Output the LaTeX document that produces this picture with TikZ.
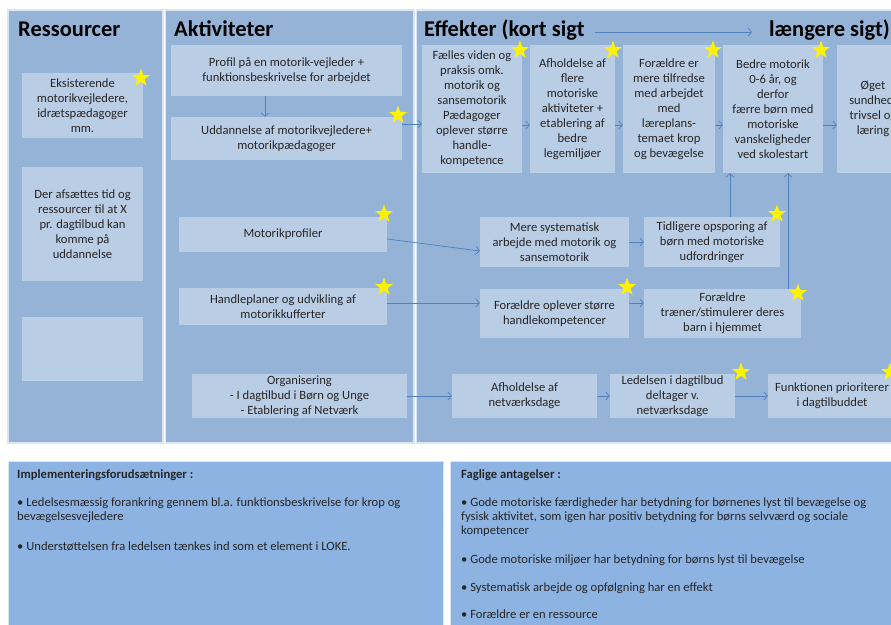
\documentclass[tikz,border=0pt]{standalone}
\usepackage{fontspec}
\setmainfont{Carlito}
\usetikzlibrary{shapes.geometric,arrows.meta}
\definecolor{panel}{HTML}{95B3D7}
\definecolor{boxc}{HTML}{B9CDE5}
\definecolor{lowp}{HTML}{8DB3E2}
\definecolor{arrc}{HTML}{4F81BD}
\definecolor{edgec}{HTML}{DCE6F2}
\definecolor{txt}{HTML}{262626}
\begin{document}
\begin{tikzpicture}[x=1pt,y=-1pt,
  box/.style={fill=boxc, inner sep=0pt, align=center, text=txt, font=\fontsize{12.6}{15}\selectfont},
  head/.style={anchor=base west, inner sep=0pt, text=black, font=\fontsize{22.5}{26}\selectfont\bfseries},
  ptxt/.style={anchor=base west, inner sep=0pt, text=txt, font=\fontsize{12.6}{14}\selectfont},
  phead/.style={ptxt, font=\fontsize{12.6}{14}\selectfont\bfseries},
  arr/.style={draw=arrc, line width=0.7pt, -{Straight Barb[length=3.5pt,width=8pt]}},
  ystar/.style={shape=star, star points=5, star point ratio=2.5, fill=yellow, draw=none, inner sep=0pt, minimum size=19pt}]
\clip (0,0) rectangle (891,624);
\useasboundingbox (0,0) rectangle (891,624);
\fill[white] (0,0) rectangle (891,624);
% columns
\filldraw[fill=panel, draw=edgec, line width=1.2pt] (8,10) rectangle (163,443);
\filldraw[fill=panel, draw=edgec, line width=1.2pt] (165.5,10) rectangle (414,443);
\filldraw[fill=panel, draw=edgec, line width=1.2pt] (416.5,10) rectangle (905,443);
% bottom panels
\filldraw[fill=lowp, draw=edgec, line width=0.8pt] (8,461) rectangle (443,640);
\filldraw[fill=lowp, draw=edgec, line width=0.8pt] (450,461) rectangle (905,640);
% headers
\node[head] (h1) at (18,36) {Ressourcer};
\node[head] (h2) at (174,36) {Aktiviteter};
\node[head] (h3) at (424,36) {Effekter (kort sigt};
\node[head] (h4) at (769,36) {længere sigt)};
\coordinate (k1) at (595,32);
\coordinate (k2) at (752,32);
\draw[arr] (k1) -- (k2);
% ressourcer
\node[box, minimum width=121pt, minimum height=65pt] (r1) at (82.5,105.5) {Eksisterende\\motorikvejledere,\\idrætspædagoger\\mm.};
\node[box, minimum width=121pt, minimum height=114pt] (r2) at (82.5,224) {Der afsættes tid og\\ressourcer til at X\\pr. dagtilbud kan\\komme på\\uddannelse};
\node[box, minimum width=121pt, minimum height=64pt] (r3) at (82.5,349) {};
% aktiviteter
\node[box, minimum width=231pt, minimum height=51pt] (a1) at (286.5,70.5) {Profil på en motorik-vejleder +\\funktionsbeskrivelse for arbejdet};
\node[box, minimum width=231pt, minimum height=43pt] (a2) at (286.5,138.5) {Uddannelse af motorikvejledere+\\motorikpædagoger};
\node[box, minimum width=208pt, minimum height=35pt] (a3) at (283,234.5) {Motorikprofiler};
\node[box, minimum width=208pt, minimum height=37pt] (a4) at (283,306.5) {Handleplaner og udvikling af\\motorikkufferter};
\node[box, minimum width=215pt, minimum height=44pt] (a5) at (299.5,396) {Organisering\\- I dagtilbud i Børn og Unge\\- Etablering af Netværk};
% effekter top row
\node[box, minimum width=100pt, minimum height=128pt] (e1) at (472,109) {Fælles viden og\\praksis omk.\\motorik og\\sansemotorik\\Pædagoger\\oplever større\\handle-\\kompetence};
\node[box, minimum width=85pt, minimum height=128pt] (e2) at (572.5,109) {Afholdelse af\\flere\\motoriske\\aktiviteter +\\etablering af\\bedre\\legemiljøer};
\node[box, minimum width=92pt, minimum height=128pt] (e3) at (669,109) {Forældre er\\mere tilfredse\\med arbejdet\\med\\læreplans-\\temaet krop\\og bevægelse};
\node[box, minimum width=100pt, minimum height=128pt] (e4) at (773,109) {Bedre motorik\\0-6 år, og\\derfor\\færre børn med\\motoriske\\vanskeligheder\\ved skolestart};
\node[box, minimum width=72pt, minimum height=128pt] (e5) at (873,109) {Øget\\sundhed,\\trivsel og\\læring};
% middle
\node[box, minimum width=149pt, minimum height=50pt] (m1) at (554.5,242) {Mere systematisk\\arbejde med motorik og\\sansemotorik};
\node[box, minimum width=136pt, minimum height=50pt] (m2) at (712,242) {Tidligere opsporing af\\børn med motoriske\\udfordringer};
\node[box, minimum width=149pt, minimum height=49pt] (m3) at (554.5,313.5) {Forældre oplever større\\handlekompetencer};
\node[box, minimum width=157pt, minimum height=49pt] (m4) at (722.5,313.5) {Forældre\\træner/stimulerer deres\\barn i hjemmet};
% bottom row
\node[box, minimum width=145pt, minimum height=44pt] (b1) at (524.5,396) {Afholdelse af\\netværksdage};
\node[box, minimum width=125pt, minimum height=44pt] (b2) at (672.5,396) {Ledelsen i dagtilbud\\deltager v.\\netværksdage};
\node[box, minimum width=128pt, minimum height=44pt] (b3) at (832,396) {Funktionen prioriterer\\i dagtilbuddet};
% connectors
\draw[arr] (a1.south -| 265,0) -- (a2.north -| 265,0);
\draw[arr] (a2.east |- 0,124) -- (e1.west |- 0,124);
\draw[arr] (e1.east |- 0,125) -- (e2.west |- 0,125);
\draw[arr] (e2.east |- 0,125) -- (e3.west |- 0,125);
\draw[arr] (e3.east |- 0,125) -- (e4.west |- 0,125);
\draw[arr] (e4.east |- 0,125) -- (e5.west |- 0,125);
\draw[arr] (a3.east |- 0,239) -- (m1.west |- 0,251);
\draw[arr] (m1.east) -- (m2.west);
\draw[arr] (a4.east |- 0,303) -- (m3.west |- 0,303);
\draw[arr] (m3.east |- 0,303) -- (m4.west |- 0,303);
\draw[arr] (m2.north -| 730,0) -- (e4.south -| 730,0);
\draw[arr] (m4.north -| 788,0) -- (e4.south -| 788,0);
\draw[arr] (a5.east) -- (b1.west);
\draw[arr] (b1.east) -- (b2.west);
\draw[arr] (b2.east) -- (b3.west);
% stars
\node[ystar] (s1) at (141,78) {};
\node[ystar] (s2) at (398,115) {};
\node[ystar] (s3) at (384,214) {};
\node[ystar] (s4) at (384,287) {};
\node[ystar] (s5) at (627,287) {};
\node[ystar] (s6) at (777,214) {};
\node[ystar] (s7) at (798,293) {};
\node[ystar] (s8) at (520,50) {};
\node[ystar] (s9) at (613,50) {};
\node[ystar] (s10) at (713,50) {};
\node[ystar] (s11) at (821,50) {};
\node[ystar] (s12) at (741,372) {};
\node[ystar] (s13) at (890,372) {};
% bottom texts
\node[phead] (p1) at (17,478.5) {Implementeringsforudsætninger :};
\node[ptxt] (p2) at (17,506.5) {• Ledelsesmæssig forankring gennem bl.a. funktionsbeskrivelse for krop og};
\node[ptxt] (p3) at (17,520.5) {bevægelsesvejledere};
\node[ptxt] (p4) at (17,550.5) {• Understøttelsen fra ledelsen tænkes ind som et element i LOKE.};
\node[phead] (q1) at (461,478.5) {Faglige antagelser :};
\node[ptxt] (q2) at (461,506.5) {• Gode motoriske færdigheder har betydning for børnenes lyst til bevægelse og};
\node[ptxt] (q3) at (461,520.5) {fysisk aktivitet, som igen har positiv betydning for børns selvværd og sociale};
\node[ptxt] (q4) at (461,534.5) {kompetencer};
\node[ptxt] (q5) at (461,563.5) {• Gode motoriske miljøer har betydning for børns lyst til bevægelse};
\node[ptxt] (q6) at (461,591.5) {• Systematisk arbejde og opfølgning har en effekt};
\node[ptxt] (q7) at (461,618.5) {• Forældre er en ressource};
\end{tikzpicture}
\end{document}
